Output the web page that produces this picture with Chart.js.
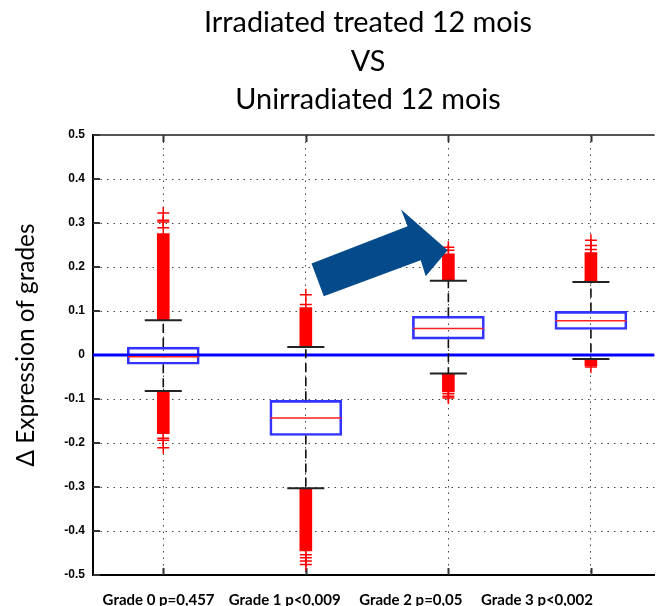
<!DOCTYPE html>
<html><head><meta charset="utf-8">
<script src="https://cdn.jsdelivr.net/npm/chart.js@4.4.0/dist/chart.umd.min.js"></script>
<style>html,body{margin:0;padding:0;background:#fff;}canvas{display:block;}</style>
</head><body>
<canvas id="c" width="662" height="606"></canvas>
<script>
// ---------- data ----------
const categories = ['Grade 0 p=0,457', 'Grade 1 p<0,009', 'Grade 2 p=0,05', 'Grade 3 p<0,002'];
const titleLines = ['Irradiated treated 12 mois', 'VS', 'Unirradiated 12 mois'];
const yAxisTitle = 'Δ Expression of grades';
const yTicks = [-0.5, -0.4, -0.3, -0.2, -0.1, 0, 0.1, 0.2, 0.3, 0.4, 0.5];
const yTickLabels = ['-0.5', '-0.4', '-0.3', '-0.2', '-0.1', '0', '0.1', '0.2', '0.3', '0.4', '0.5'];

const q1 = [-0.021, -0.183, 0.036, 0.058];
const median = [-0.004, -0.143, 0.060, 0.078];
const q3 = [0.018, -0.103, 0.088, 0.099];
const whiskerLow = [-0.082, -0.303, -0.042, -0.009];
const whiskerHigh = [0.079, 0.018, 0.169, 0.166];
const denseHigh = [0.276, 0.108, 0.230, 0.233];
const denseLow = [-0.179, -0.445, -0.084, -0.025];
const outliersHigh = [[0.289, 0.302, 0.306, 0.323], [0.115, 0.137], [0.238, 0.245], [0.240, 0.249, 0.261]];
const outliersLow = [[-0.189, -0.194, -0.211], [-0.454, -0.461, -0.468, -0.476], [-0.088, -0.094, -0.098], [-0.027]];
const zeroLine = 0;

// annotation arrow (data coordinates)
const arrowX = [1.040, 1.714, 1.668, 1.995, 1.841, 1.806, 1.126];
const arrowY = [0.2077, 0.2925, 0.3305, 0.2380, 0.1789, 0.2152, 0.1334];

// ---------- style constants ----------
const X_MIN = -0.493, X_MAX = 3.446;
const XL_MIN = -0.520, XL_MAX = 3.932;
const BOX_HALF = 0.248, CAP_HALF = 0.13;

function fitFont(text, weight, family, target) {
  const c = document.createElement('canvas').getContext('2d');
  c.font = weight + ' 100px ' + family;
  return 100 * target / c.measureText(text).width;
}
const titleSize = fitFont(titleLines[0], 'normal', 'Lato', 328);
const yTitleSize = fitFont(yAxisTitle, 'normal', 'Lato', 243);
const xLabelSize = fitFont(categories[0], 'bold', 'Lato', 112);

// ---------- derived datasets ----------
const boxData = categories.map((_, i) => ({ x: i, y: [q1[i], q3[i]] }));
const denseData = [];
categories.forEach((_, i) => {
  denseData.push({ x: i, y: [whiskerHigh[i], denseHigh[i]] });
  denseData.push({ x: i, y: [denseLow[i], whiskerLow[i]] });
});
const whiskerData = [], capData = [], medianData = [], crossData = [];
categories.forEach((_, i) => {
  whiskerData.push({ x: i, y: q3[i] }, { x: i, y: whiskerHigh[i] }, { x: i, y: null });
  whiskerData.push({ x: i, y: q1[i] }, { x: i, y: whiskerLow[i] }, { x: i, y: null });
  capData.push({ x: i - CAP_HALF, y: whiskerHigh[i] }, { x: i + CAP_HALF, y: whiskerHigh[i] }, { x: i, y: null });
  capData.push({ x: i - CAP_HALF, y: whiskerLow[i] }, { x: i + CAP_HALF, y: whiskerLow[i] }, { x: i, y: null });
  medianData.push({ x: i - BOX_HALF, y: median[i] }, { x: i + BOX_HALF, y: median[i] }, { x: i, y: null });
  outliersHigh[i].forEach(v => crossData.push({ x: i, y: v }));
  outliersLow[i].forEach(v => crossData.push({ x: i, y: v }));
});

const decor = {
  id: 'decor',
  beforeDatasetsDraw(chart) {
    const { ctx, chartArea: a, scales: { x, y } } = chart;
    ctx.save();
    ctx.strokeStyle = '#555'; ctx.lineWidth = 2;
    ctx.beginPath(); ctx.moveTo(a.left, a.top); ctx.lineTo(a.right, a.top); ctx.stroke();
    ctx.strokeStyle = '#333';
    ctx.beginPath();
    y.ticks.forEach(t => { const py = Math.round(y.getPixelForValue(t.value)); ctx.moveTo(a.left, py); ctx.lineTo(a.left + 7, py); });
    x.ticks.forEach(t => { const px = Math.round(x.getPixelForValue(t.value)) + 0.5;
      ctx.moveTo(px, a.bottom); ctx.lineTo(px, a.bottom - 7);
      ctx.moveTo(px, a.top); ctx.lineTo(px, a.top + 7); });
    ctx.stroke();
    ctx.restore();
  },
  afterDatasetsDraw(chart) {
    const { ctx, scales: { x, y } } = chart;
    ctx.save();
    ctx.fillStyle = '#054b8c';
    ctx.beginPath();
    arrowX.forEach((v, i) => {
      const px = x.getPixelForValue(v), py = y.getPixelForValue(arrowY[i]);
      if (i === 0) ctx.moveTo(px, py); else ctx.lineTo(px, py);
    });
    ctx.closePath(); ctx.fill();
    ctx.restore();
  },
  afterDraw(chart) {
    const { ctx } = chart;
    ctx.save();
    ctx.fillStyle = '#000';
    ctx.textAlign = 'center'; ctx.textBaseline = 'alphabetic';
    ctx.font = 'normal ' + titleSize.toFixed(2) + 'px Lato';
    const baselines = [32, 71, 109];
    titleLines.forEach((t, i) => ctx.fillText(t, 368, baselines[i]));
    ctx.translate(34, 345);
    ctx.rotate(-Math.PI / 2);
    ctx.font = 'normal ' + yTitleSize.toFixed(2) + 'px Lato';
    ctx.fillText(yAxisTitle, 0, 0);
    ctx.restore();
  }
};

new Chart(document.getElementById('c'), {
  type: 'bar',
  data: {
    datasets: [
      { type: 'line', label: 'outliers', data: crossData, showLine: false, pointStyle: 'cross',
        pointRadius: 6, pointBorderColor: '#ff0000', pointBorderWidth: 1.5, pointBackgroundColor: '#ff0000', order: 0 },
      { type: 'line', label: 'caps', data: capData, borderColor: '#222', borderWidth: 2, pointRadius: 0, spanGaps: false, order: 1 },
      { type: 'line', label: 'whiskers', data: whiskerData, borderColor: '#111', borderWidth: 1.6, borderDash: [9, 5],
        pointRadius: 0, spanGaps: false, order: 2 },
      { type: 'bar', label: 'dense outliers', data: denseData, backgroundColor: '#ff0000', borderWidth: 0,
        barThickness: 12, grouped: false, order: 3 },
      { type: 'line', label: 'median', data: medianData, borderColor: '#ff2020', borderWidth: 1.5, pointRadius: 0, spanGaps: false, order: 4 },
      { type: 'line', label: 'zero', data: [{ x: X_MIN, y: zeroLine }, { x: X_MAX, y: zeroLine }], borderColor: '#0000ff',
        borderWidth: 3, pointRadius: 0, order: 5 },
      { type: 'bar', label: 'box', data: boxData, backgroundColor: 'rgba(255,255,255,0)', borderColor: '#3333ff',
        borderWidth: 2, borderSkipped: false, barThickness: 72, grouped: false, order: 6 }
    ]
  },
  options: {
    responsive: false, animation: false, devicePixelRatio: 1,
    layout: { padding: { top: 135, left: 0, right: 0, bottom: 0 } },
    plugins: { legend: { display: false }, tooltip: { enabled: false }, title: { display: false } },
    scales: {
      x: {
        type: 'linear', position: 'bottom', weight: 0, min: X_MIN, max: X_MAX, offset: false,
        afterBuildTicks: s => { s.ticks = categories.map((_, i) => ({ value: i })); },
        afterFit: s => { s.height = 0; },
        ticks: { display: false },
        grid: { color: '#444', lineWidth: 1, drawTicks: false, offset: false },
        border: { display: true, color: '#000', width: 2, dash: [1.5, 5] }
      },
      xl: {
        type: 'linear', position: 'bottom', weight: 1, min: XL_MIN, max: XL_MAX, offset: false,
        afterBuildTicks: s => { s.ticks = categories.map((_, i) => ({ value: i })); },
        afterFit: s => { s.height = 31; },
        ticks: { callback: v => categories[v], font: { family: 'Lato', weight: 'bold', size: xLabelSize },
          color: '#000', padding: 16, maxRotation: 0, autoSkip: false },
        grid: { display: false, drawTicks: false, offset: false },
        border: { display: false }
      },
      y: {
        type: 'linear', position: 'left', min: -0.5, max: 0.5,
        afterBuildTicks: s => { s.ticks = yTicks.map(v => ({ value: v })); },
        afterFit: s => { s.width = 93; },
        ticks: { callback: (v, i) => yTickLabels[i], font: { family: 'Liberation Sans', weight: 'bold', size: 12 },
          color: '#000', padding: 8 },
        grid: { color: '#444', lineWidth: 1, drawTicks: false },
        border: { display: true, color: '#000', width: 2, dash: [1.5, 5] }
      }
    }
  },
  plugins: [decor]
});
</script>
</body></html>
